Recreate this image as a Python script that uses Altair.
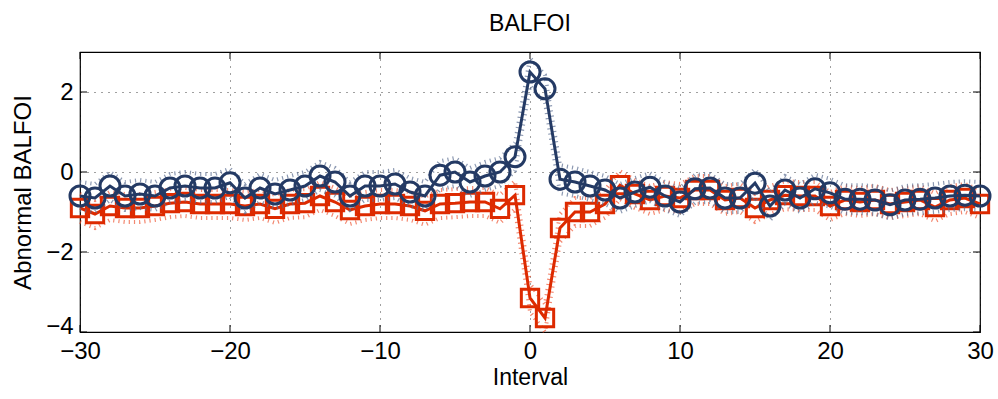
import altair as alt
import pandas as pd

intervals = list(range(-30, 31))

blue_vals = [-0.60, -0.65, -0.35, -0.60, -0.55, -0.60, -0.40, -0.35, -0.40, -0.40,
             -0.27, -0.65, -0.40, -0.55, -0.45, -0.35, -0.10, -0.25, -0.60, -0.35,
             -0.35, -0.30, -0.50, -0.60, -0.08, 0.00, -0.25, -0.10, 0.00, 0.38,
             2.50, 2.08, -0.18, -0.25, -0.35, -0.45, -0.65, -0.50, -0.38, -0.60,
             -0.75, -0.42, -0.40, -0.65, -0.65, -0.28, -0.85, -0.45, -0.65, -0.42,
             -0.52, -0.68, -0.68, -0.70, -0.82, -0.70, -0.68, -0.65, -0.60, -0.58,
             -0.60]

red_vals = [-0.90, -1.05, -0.85, -0.90, -0.90, -0.85, -0.78, -0.75, -0.80, -0.80,
            -0.80, -0.85, -0.80, -0.92, -0.80, -0.78, -0.60, -0.75, -0.95, -0.85,
            -0.80, -0.80, -0.85, -0.97, -0.80, -0.78, -0.75, -0.75, -0.92, -0.58,
            -3.15, -3.65, -1.40, -1.00, -1.00, -0.80, -0.33, -0.55, -0.70, -0.60,
            -0.65, -0.45, -0.45, -0.70, -0.65, -0.90, -0.70, -0.58, -0.60, -0.60,
            -0.85, -0.70, -0.75, -0.70, -0.80, -0.75, -0.70, -0.88, -0.70, -0.65,
            -0.80]

band_half = 0.35
x_ticks = [-30, -20, -10, 0, 10, 20, 30]
y_ticks = [-4, -2, 0, 2]

W, H = 900, 280
FONT = "Liberation Sans"

xs = alt.Scale(domain=[-30, 30], nice=False, zero=False)
ys = alt.Scale(domain=[-4, 3], nice=False, zero=False)

xaxis = alt.Axis(values=x_ticks, title="Interval", grid=True, domain=False,
                 ticks=False, labelPadding=7, labelFontSize=24, titleFontSize=23,
                 titleFontWeight="normal", titlePadding=3, labelFont=FONT,
                 titleFont=FONT, gridDash=[1, 6], gridColor="#000",
                 gridOpacity=0.75, labelColor="#000", titleColor="#000",
                 labelFlush=False)
yaxis = alt.Axis(values=y_ticks, title="Abnormal BALFOI", grid=True, domain=False,
                 ticks=False, labelPadding=7, labelFontSize=24, titleFontSize=24,
                 titleFontWeight="normal", titlePadding=10, labelFont=FONT,
                 titleFont=FONT, gridDash=[1, 6], gridColor="#000",
                 gridOpacity=0.75, labelColor="#000", titleColor="#000",
                 labelFlush=True, labelFlushOffset=6)


def X(field):
    return alt.X(field, scale=xs, axis=xaxis)


def Y(field):
    return alt.Y(field, scale=ys, axis=yaxis)


def series_layers(vals, color, band_color, shape, size):
    df = pd.DataFrame({"Interval": intervals, "value": vals})
    base = alt.Chart(df).transform_calculate(
        upper=f"datum.value + {band_half}", lower=f"datum.value - {band_half}"
    )
    up = base.mark_line(color=band_color, strokeWidth=4, strokeDash=[1.2, 4],
                        opacity=0.7).encode(x=X("Interval:Q"), y=Y("upper:Q"))
    lo = base.mark_line(color=band_color, strokeWidth=4, strokeDash=[1.2, 4],
                        opacity=0.7).encode(x=X("Interval:Q"), y=Y("lower:Q"))
    line = base.mark_line(color=color, strokeWidth=3).encode(
        x=X("Interval:Q"), y=Y("value:Q"))
    pts = base.mark_point(shape=shape, size=size, filled=False, color=color,
                          strokeWidth=3, opacity=1).encode(
        x=X("Interval:Q"), y=Y("value:Q"))
    return [up, lo, line, pts]


red_layers = series_layers(red_vals, "#dd2a00", "#ee5533", "square", 300)
blue_layers = series_layers(blue_vals, "#243a64", "#5a6c90", "circle", 400)

xt = pd.DataFrame({"t": x_ticks})
yt = pd.DataFrame({"t": y_ticks})
tick_style = dict(color="#000", strokeWidth=1)
ticks = [
    alt.Chart(xt).mark_rule(**tick_style).encode(
        x=X("t:Q"), y=alt.value(H), y2=alt.value(H - 7)),
    alt.Chart(xt).mark_rule(**tick_style).encode(
        x=X("t:Q"), y=alt.value(0), y2=alt.value(7)),
    alt.Chart(yt).mark_rule(**tick_style).encode(
        y=Y("t:Q"), x=alt.value(0), x2=alt.value(7)),
    alt.Chart(yt).mark_rule(**tick_style).encode(
        y=Y("t:Q"), x=alt.value(W), x2=alt.value(W - 7)),
]

chart = alt.layer(*red_layers, *blue_layers, *ticks).properties(
    width=W, height=H,
    title=alt.Title("BALFOI", fontSize=23, fontWeight="normal", font=FONT,
                    color="#000", offset=14),
    autosize=alt.AutoSizeParams(type="none"),
    padding={"left": 80, "top": 52, "right": 18, "bottom": 67},
    background="white",
).configure_view(stroke="#000", strokeWidth=1.2)

chart.save("out.html", embed_options={"renderer": "svg", "actions": False})
